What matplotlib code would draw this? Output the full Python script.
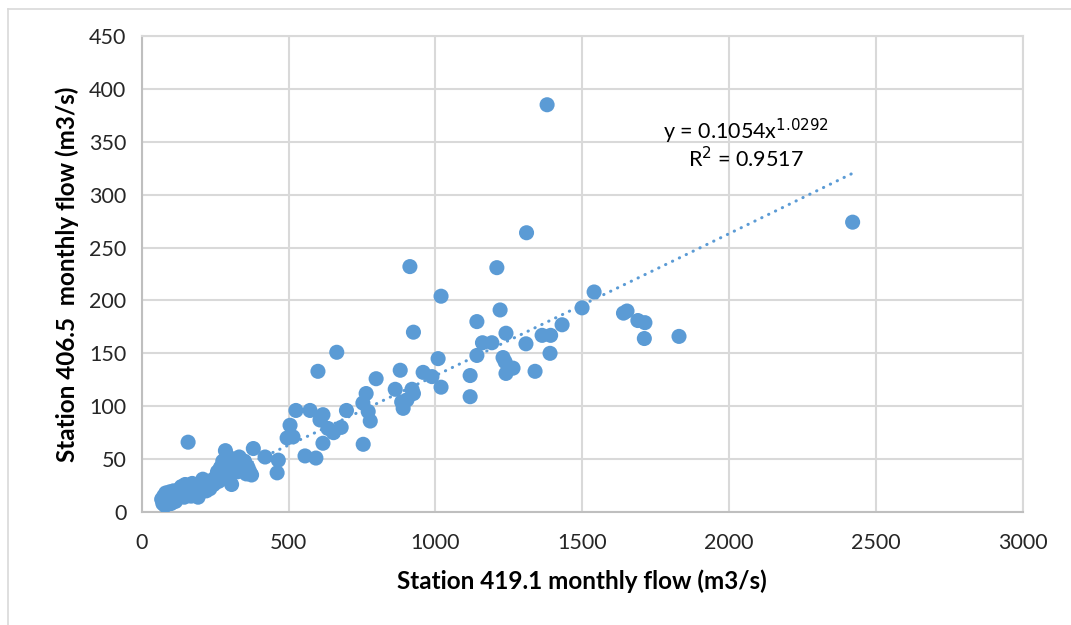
"""station 419.1 vs station 406.5 monthly flow, power trendline"""
import numpy as np
import matplotlib
matplotlib.use("Agg")
import matplotlib.pyplot as plt
from matplotlib.lines import Line2D

# monthly flows (m3/s)
flow_419 = [
    # low-flow cluster
    68, 72, 75, 78, 80, 82, 85, 88, 90, 93, 95, 98, 100, 103, 106, 108, 112, 115, 118, 122,
    126, 130, 135, 140, 145, 148, 152, 158, 162, 168, 172, 178, 182, 188, 192, 198, 203, 208,
    214, 220, 226, 232, 238, 245, 252, 258, 262, 268, 272, 276, 280, 285, 290, 295, 298, 302,
    306, 310, 315, 320, 326, 332, 338, 345, 350, 356, 362, 368, 374, 380, 158,
    # middle
    420, 465, 461, 505, 495, 515, 525, 573, 556, 593, 617, 607, 634, 617, 653, 679, 697, 600,
    664, 754, 753, 764, 771, 778, 798, 863, 880, 885, 890, 903, 920, 925, 925, 913, 958, 988,
    1009, 1019, 1019, 1118, 1118,
    # high
    1141, 1141, 1160, 1192, 1209, 1220, 1230, 1237, 1240, 1240, 1264, 1310, 1308, 1339, 1363,
    1380, 1390, 1392, 1431, 1499, 1540, 1640, 1652, 1689, 1713, 1711, 1829, 2420,
]
flow_406 = [
    12, 8, 15, 10, 6, 18, 13, 9, 16, 11, 19, 14, 8, 17, 12, 20, 15, 10, 18, 13,
    21, 16, 24, 18, 14, 26, 20, 17, 23, 15, 27, 20, 24, 18, 14, 22, 28, 31,
    24, 20, 27, 22, 30, 26, 33, 38, 29, 42, 35, 48, 44, 58, 40, 52, 46, 36,
    26, 50, 43, 47, 38, 52, 44, 40, 48, 36, 42, 38, 35, 60, 66,
    52, 49, 37, 82, 70, 71, 96, 96, 53, 51, 92, 87, 79, 65, 75, 80, 96, 133,
    151, 64, 103, 112, 95, 86, 126, 116, 134, 104, 98, 106, 116, 112, 170, 232, 132, 128,
    145, 204, 118, 129, 109,
    180, 148, 160, 160, 231, 191, 146, 142, 169, 131, 136, 264, 159, 133, 167,
    385, 150, 167, 177, 193, 208, 188, 190, 181, 179, 164, 166, 274,
]

# power fit shown on the chart
coef_a = 0.1054
coef_b = 1.0292
r2 = 0.9517

blue = "#5B9BD5"
grid_c = "#D9D9D9"

plt.rcParams["font.family"] = ["Lato", "DejaVu Sans"]

fig = plt.figure(figsize=(10.71, 6.25), dpi=100)
ax = fig.add_axes([0.1323, 0.1808, 0.8229, 0.7616])

ax.scatter(flow_419, flow_406, s=118, color=blue, edgecolors="none", zorder=3)

xf = np.linspace(min(flow_419), max(flow_419), 200)
ax.plot(xf, coef_a * xf ** coef_b, color=blue, lw=2.2,
        linestyle=(0, (0.1, 2.4)), dash_capstyle="round", zorder=2)

ax.text(2057, 360, "y = %.4fx$^{%.4f}$" % (coef_a, coef_b), ha="center", va="center",
        fontsize=15.5)
ax.text(2057, 334, "R$^2$ = %.4f" % r2, ha="center", va="center", fontsize=15.5)

ax.set_xlim(0, 3000)
ax.set_ylim(0, 450)
ax.set_xticks(np.arange(0, 3001, 500))
ax.set_yticks(np.arange(0, 451, 50))
ax.grid(True, color=grid_c, lw=1.5, zorder=0)
ax.set_axisbelow(True)
for s in ax.spines.values():
    s.set_color(grid_c)
    s.set_linewidth(1.5)
ax.spines["left"].set_color("#BFBFBF")
ax.spines["bottom"].set_color("#BFBFBF")
ax.tick_params(length=0, labelsize=15.5, colors="#262626")
ax.tick_params(axis="x", pad=15)
ax.tick_params(axis="y", pad=11)

ax.set_xlabel("Station 419.1 monthly flow (m3/s)", fontsize=17.5, fontweight="bold",
              labelpad=12)
ax.set_ylabel("Station 406.5  monthly flow (m3/s)", fontsize=17.5, fontweight="bold",
              labelpad=7)

# outer chart border (cut at the right and bottom)
fig.add_artist(Line2D([8 / 1071, 8 / 1071], [0, 1 - 9 / 625], color=grid_c, lw=1.2))
fig.add_artist(Line2D([8 / 1071, 1], [1 - 9 / 625, 1 - 9 / 625], color=grid_c, lw=1.2))

plt.savefig("out.png", dpi=100)
